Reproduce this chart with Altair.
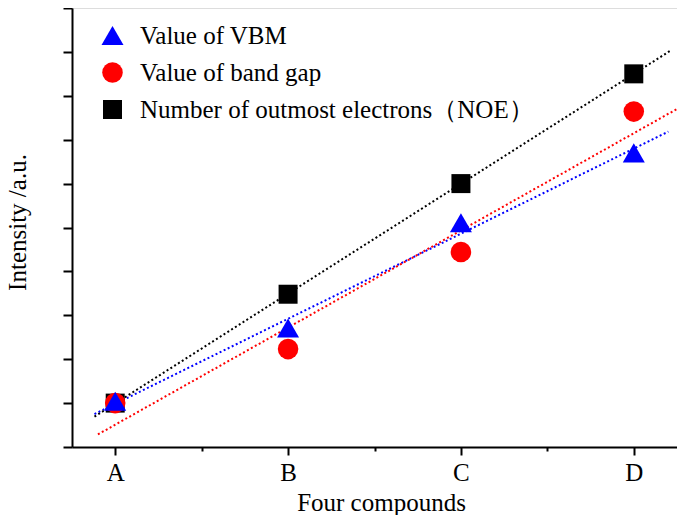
import altair as alt
import pandas as pd

# ---- data ----
compounds = ["A", "B", "C", "D"]
x_pos = [1, 2, 3, 4]
vbm_values = [1.04, 2.71, 5.11, 6.70]
gap_values = [1.00, 2.23, 4.44, 7.64]
noe_values = [1.00, 3.48, 6.00, 8.50]
series_names = ["Value of VBM", "\u00a0Value of band gap",
                "Number of outmost electrons\uff08NOE\uff09"]
series_colors = ["#0000ff", "#ff0000", "#000000"]
series_shapes = ["triangle-up", "circle", "square"]
series_sizes = [484, 361, 256]
fit_extents = [[0.88, 4.20], [0.90, 4.25], [0.88, 4.21]]

rows = []
# draw order: NOE first (bottom), then band gap, VBM on top
for z, (name, vals) in enumerate([(series_names[2], noe_values),
                                  (series_names[1], gap_values),
                                  (series_names[0], vbm_values)]):
    for xp, c, v in zip(x_pos, compounds, vals):
        rows.append({"x": xp, "compound": c, "y": v, "series": name, "z": z})
df = pd.DataFrame(rows)

FONT = "Liberation Serif"
xscale = alt.Scale(domain=[0.75, 4.25], nice=False, zero=False)
yscale = alt.Scale(domain=[0, 10], nice=False)

label_expr = ("datum.value == 1 ? 'A' : datum.value == 2 ? 'B' : "
              "datum.value == 3 ? 'C' : datum.value == 4 ? 'D' : ''")

xaxis = alt.Axis(
    title="Four compounds", values=[1, 1.5, 2, 2.5, 3, 3.5, 4],
    labelExpr=label_expr, grid=False,
    tickSize={"condition": {"test": "datum.value % 1 != 0", "value": 4}, "value": 8},
    tickWidth=2, tickColor="black", domainColor="black", domainWidth=2,
    labelFont=FONT, labelFontSize=25, labelColor="black", labelPadding=5,
    titleFont=FONT, titleFontSize=25, titleFontWeight="normal", titleColor="black",
    titleBaseline="alphabetic", titleY=63, titleX=309, titleAlign="center",
)
yaxis = alt.Axis(
    title="Intensity /a.u.", values=list(range(0, 11)), labels=False, grid=False,
    tickSize=9, tickWidth=2, tickColor="black", domainColor="black", domainWidth=2,
    titleFont=FONT, titleFontSize=25, titleFontWeight="normal", titleColor="black",
    titleBaseline="alphabetic", titleX=-47, titleY=214, titleAngle=-90,
    titleAlign="center",
)

legend = alt.Legend(
    title=None, orient="none", legendX=28, legendY=15, padding=0,
    labelFont=FONT, labelFontSize=25, labelColor="black", labelOffset=15,
    labelLimit=0, rowPadding=11, symbolStrokeWidth=0,
)

points = alt.Chart(df).mark_point(filled=True, opacity=1, strokeWidth=0).encode(
    x=alt.X("x:Q", scale=xscale, axis=xaxis),
    y=alt.Y("y:Q", scale=yscale, axis=yaxis),
    color=alt.Color("series:N", scale=alt.Scale(domain=series_names, range=series_colors), legend=legend),
    shape=alt.Shape("series:N", scale=alt.Scale(domain=series_names, range=series_shapes), legend=legend),
    size=alt.Size("series:N", scale=alt.Scale(domain=series_names, range=series_sizes), legend=legend),
    order=alt.Order("z:Q"),
)

lines = []
for name, col, ext in zip(series_names, series_colors, fit_extents):
    ln = alt.Chart(df).transform_filter(
        alt.datum.series == name
    ).transform_regression("x", "y", extent=ext).mark_line(
        color=col, strokeWidth=2, strokeDash=[2, 2.5]
    ).encode(
        x=alt.X("x:Q", scale=xscale, axis=xaxis),
        y=alt.Y("y:Q", scale=yscale, axis=yaxis),
    )
    lines.append(ln)

chart = alt.layer(*lines, points).properties(
    width=605, height=439,
    autosize=alt.AutoSizeParams(type="none"),
    padding={"left": 64, "top": 0, "right": 0, "bottom": 68},
).configure_view(stroke="black", strokeWidth=2).configure(
    background="white"
).configure_legend(labelFont=FONT)

chart.save("out.html", embed_options={"renderer": "svg", "actions": False})
